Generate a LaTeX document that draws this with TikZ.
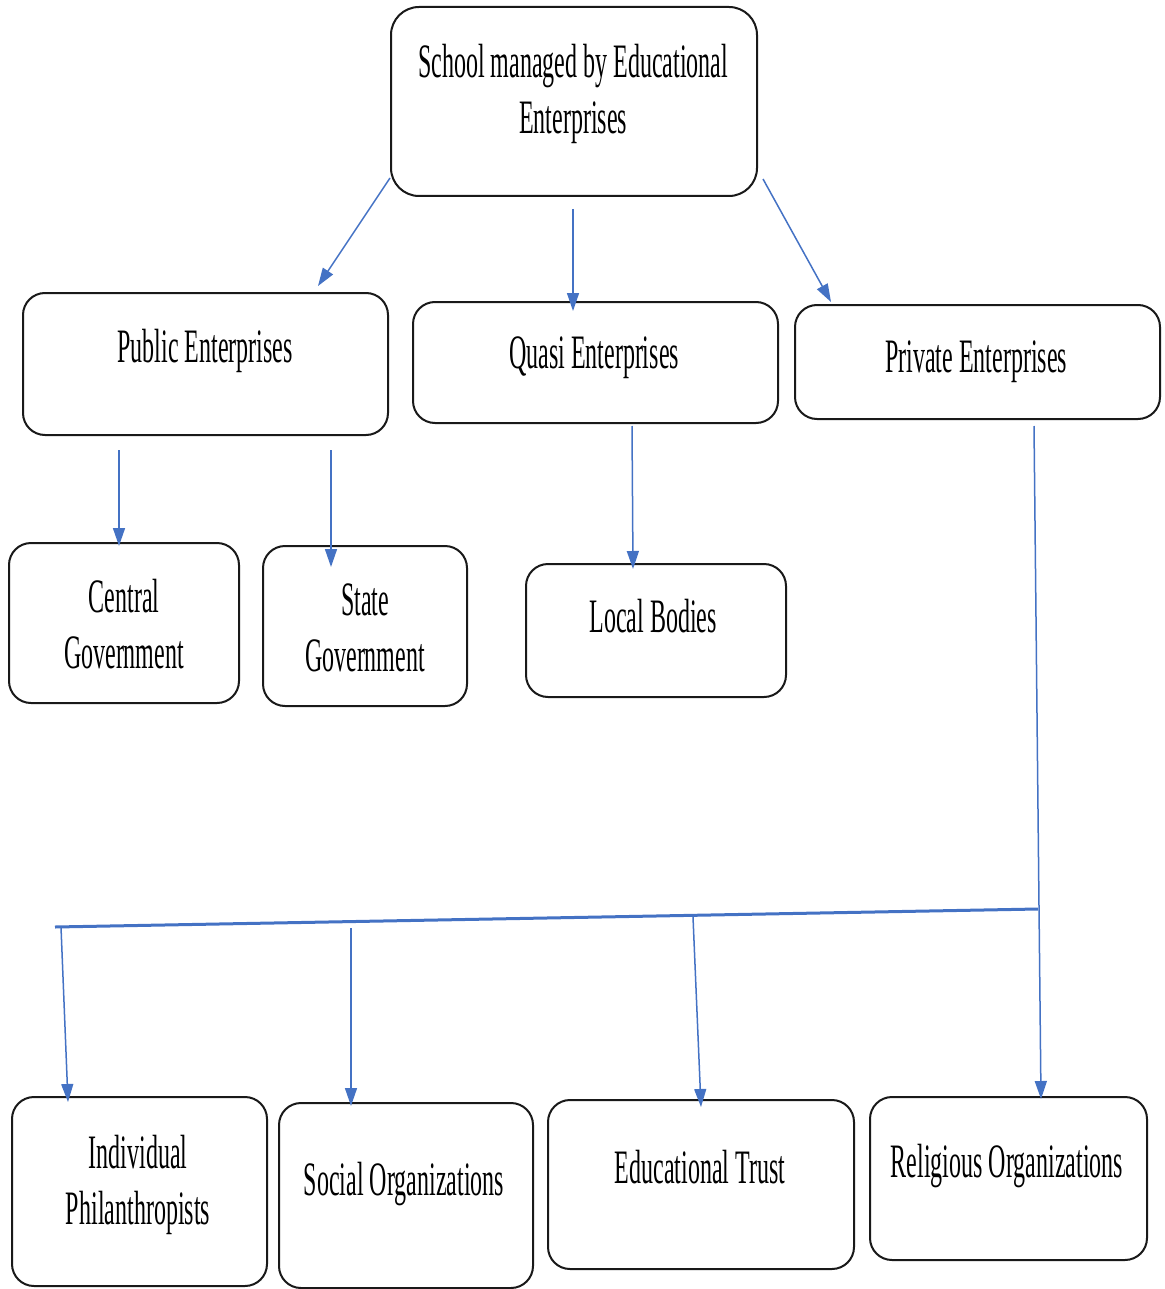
\documentclass[tikz,border=0pt]{standalone}
\usepackage{fontspec}
\setmainfont{Liberation Serif}
\newfontfamily\narrowfont[FakeStretch=0.5]{Liberation Serif}
\usetikzlibrary{arrows.meta,calc}
\definecolor{linkblue}{RGB}{68,114,196}
\tikzset{
  box/.style={draw=black!90, line width=2pt, rounded corners=22pt, inner sep=0pt, fill=white},
  txt/.style={inner sep=0pt, anchor=base, font=\narrowfont\fontsize{48}{56}\selectfont, text=black},
  conn/.style={draw=linkblue, line width=1.5pt, -{Triangle[length=18pt,width=12pt]}},
  bar/.style={draw=linkblue, line width=3pt},
}
\begin{document}
\begin{tikzpicture}[x=1pt,y=-1pt]
\useasboundingbox (0,0) rectangle (1164,1289);
% boxes
\node[box, rounded corners=28pt, minimum width=366pt, minimum height=189pt] (top) at (574,101.5) {};
\node[box, minimum width=365pt, minimum height=142pt] (pub) at (205.5,364) {};
\node[box, minimum width=365pt, minimum height=121pt] (quasi) at (595.5,362.5) {};
\node[box, minimum width=365pt, minimum height=114pt] (priv) at (977.5,362) {};
\node[box, minimum width=230pt, minimum height=160pt] (central) at (124,623) {};
\node[box, minimum width=204pt, minimum height=160pt] (state) at (365,626) {};
\node[box, minimum width=260pt, minimum height=133pt] (local) at (656,630.5) {};
\node[box, minimum width=255pt, minimum height=189pt] (indiv) at (139.5,1191.5) {};
\node[box, minimum width=254pt, minimum height=185pt] (social) at (406,1195.5) {};
\node[box, minimum width=306pt, minimum height=169pt] (edtrust) at (701,1184.5) {};
\node[box, minimum width=277pt, minimum height=163pt] (relig) at (1008.5,1178.5) {};
% texts
\node[txt] (ttop) at (573,78) {\begin{tabular}[t]{@{}c@{}}School managed by Educational\\Enterprises\end{tabular}};
\node[txt] (tpub) at (205,362) {Public Enterprises};
\node[txt] (tquasi) at (594,368) {Quasi Enterprises};
\node[txt] (tpriv) at (976,372) {Private Enterprises};
\node[txt] (tcentral) at (124,612) {\begin{tabular}[t]{@{}c@{}}Central\\Government\end{tabular}};
\node[txt] (tstate) at (365,615) {\begin{tabular}[t]{@{}c@{}}State\\Government\end{tabular}};
\node[txt] (tlocal) at (653,632) {Local Bodies};
\node[txt] (tindiv) at (138,1168) {\begin{tabular}[t]{@{}c@{}}Individual\\Philanthropists\end{tabular}};
\node[txt] (tsocial) at (404,1195) {Social Organizations};
\node[txt] (tedtrust) at (700,1183) {Educational Trust};
\node[txt] (trelig) at (1007,1177) {Religious Organizations};
% connectors from the top box
\draw[conn] ($(top.south west)+(0,-19)$) -- ($(pub.north)+(112.5,-6)$);
\draw[conn] ($(top.south)+(-1,12)$) -- ($(quasi.north)+(-22.5,10)$);
\draw[conn] ($(top.south east)+(5,-18)$) -- ($(priv.north)+(-146.5,-2)$);
% second level
\draw[conn] ($(pub.south)+(-86.5,14)$) -- ($(central.north)+(-5,4)$);
\draw[conn] ($(pub.south)+(125.5,14)$) -- ($(state.north)+(-34,22)$);
\draw[conn] ($(quasi.south)+(36.5,2)$) -- ($(local.north)+(-23,6)$);
% private branch
\coordinate (jr) at (1038,909);
\coordinate (jl) at (55,927);
\coordinate (b1) at (61,927);
\coordinate (b2) at (351,928);
\coordinate (b3) at (693,917);
\draw[bar] (jr) -- (jl);
\draw[conn] ($(priv.south)+(56.5,6)$) -- ($(relig.north)+(32.5,3)$);
\draw[conn] (b1) -- ($(indiv.north)+(-71.5,6)$);
\draw[conn] (b2) -- ($(social.north)+(-55,4)$);
\draw[conn] (b3) -- ($(edtrust.north)+(0,8)$);
\end{tikzpicture}
\end{document}
